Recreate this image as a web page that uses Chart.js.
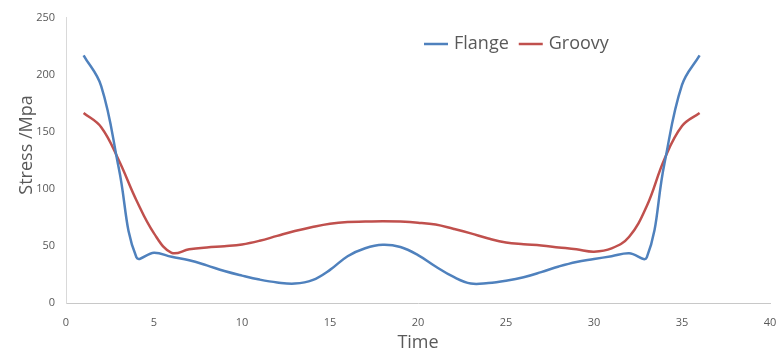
<!DOCTYPE html>
<html>
<head>
<meta charset="utf-8">
<title>Stress over time</title>
<script src="https://cdn.jsdelivr.net/npm/chart.js@4.4.1/dist/chart.umd.min.js"></script>
<style>
  body { margin: 0; background: #fff; }
  #wrap { width: 778px; height: 358px; }
</style>
</head>
<body>
<div id="wrap"><canvas id="stressChart" width="778" height="358"></canvas></div>
<script>
// sample times and stresses (MPa)
const time = [1, 2, 3, 4, 5, 6, 7, 8, 9, 10, 11, 12, 13, 14, 15, 16, 17, 18,
  19, 20, 21, 22, 23, 24, 25, 26, 27, 28, 29, 30, 31, 32, 33, 34, 35, 36];
const flange = [217, 190, 118, 40, 44, 40.5, 37.5, 33, 28, 24, 20.5, 18, 17, 20, 29, 41, 48, 51,
  49, 42, 32, 23, 17, 17.5, 19.5, 22.5, 27, 32, 36, 38.5, 41, 43.5, 40, 122, 191, 217];
const groovy = [166.5, 154, 125, 90, 61, 44, 47, 48.7, 49.8, 51.3, 54.5, 58.8, 63, 66.6, 69.5, 71, 71.3, 71.6,
  71.3, 70.4, 68.7, 65, 61, 56.5, 53, 51.5, 50.4, 48.7, 47, 45, 47.8, 58, 85, 126, 155, 166.5];
const xTicks = [0, 5, 10, 15, 20, 25, 30, 35, 40];
const yTicks = [0, 50, 100, 150, 200, 250];

const textColor = '#595959';
const fontFamily = '"Open Sans", "Noto Sans", sans-serif';

const toPoints = ys => time.map((t, i) => ({ x: t, y: ys[i] }));

// legend inside the plot (up and right of centre) plus the y axis title,
// which sits a little above the middle of the axis
const extras = {
  id: 'extras',
  afterDraw(chart) {
    const ctx = chart.ctx;
    ctx.save();
    ctx.font = '18px ' + fontFamily;
    ctx.textBaseline = 'middle';
    ctx.fillStyle = textColor;

    let x = 424;
    const y = 44;
    chart.data.datasets.forEach(ds => {
      ctx.strokeStyle = ds.borderColor;
      ctx.lineWidth = 2.5;
      ctx.beginPath();
      ctx.moveTo(x, y);
      ctx.lineTo(x + 24, y);
      ctx.stroke();
      x += 30;
      ctx.fillText(ds.label, x, y);
      x += ctx.measureText(ds.label).width + 10;
    });

    ctx.translate(27, 145);
    ctx.rotate(-Math.PI / 2);
    ctx.textAlign = 'center';
    ctx.fillText('Stress /Mpa', 0, 0);
    ctx.restore();
  }
};

const ctx = document.getElementById('stressChart').getContext('2d');
const stressChart = new Chart(ctx, {
  type: 'line',
  data: {
    datasets: [{
      label: 'Flange',
      data: toPoints(flange),
      borderColor: '#4f81bd',
      borderWidth: 2.5,
      pointRadius: 0,
      tension: 0.4,
      fill: false
    }, {
      label: 'Groovy',
      data: toPoints(groovy),
      borderColor: '#c0504d',
      borderWidth: 2.5,
      pointRadius: 0,
      tension: 0.4,
      fill: false
    }]
  },
  options: {
    responsive: false,
    animation: false,
    layout: { padding: { left: 0, right: 8, top: 17, bottom: 0 } },
    plugins: {
      legend: { display: false },
      tooltip: { enabled: false }
    },
    scales: {
      x: {
        type: 'linear',
        min: 0,
        max: 40,
        afterBuildTicks: s => { s.ticks = xTicks.map(v => ({ value: v })); },
        afterFit: s => { s.height = 55; s.paddingLeft = 0; s.paddingRight = 0; },
        grid: { display: true, color: 'rgba(0,0,0,0)', drawTicks: false },
        border: { display: true, color: '#c8c8c8', width: 1 },
        ticks: { color: textColor, padding: 13, font: { family: fontFamily, size: 11 }, maxRotation: 0 },
        title: { display: true, text: 'Time', color: textColor, padding: { top: 0, bottom: 4 }, font: { family: fontFamily, size: 18 } }
      },
      y: {
        min: 0,
        max: 250,
        afterBuildTicks: s => { s.ticks = yTicks.map(v => ({ value: v })); },
        afterFit: s => { s.width = 66; },
        grid: { display: true, color: 'rgba(0,0,0,0)', drawTicks: false },
        border: { display: true, color: '#d9d9d9', width: 1 },
        ticks: { color: textColor, padding: 11, font: { family: fontFamily, size: 11 } }
      }
    }
  },
  plugins: [extras]
});
</script>
</body>
</html>
